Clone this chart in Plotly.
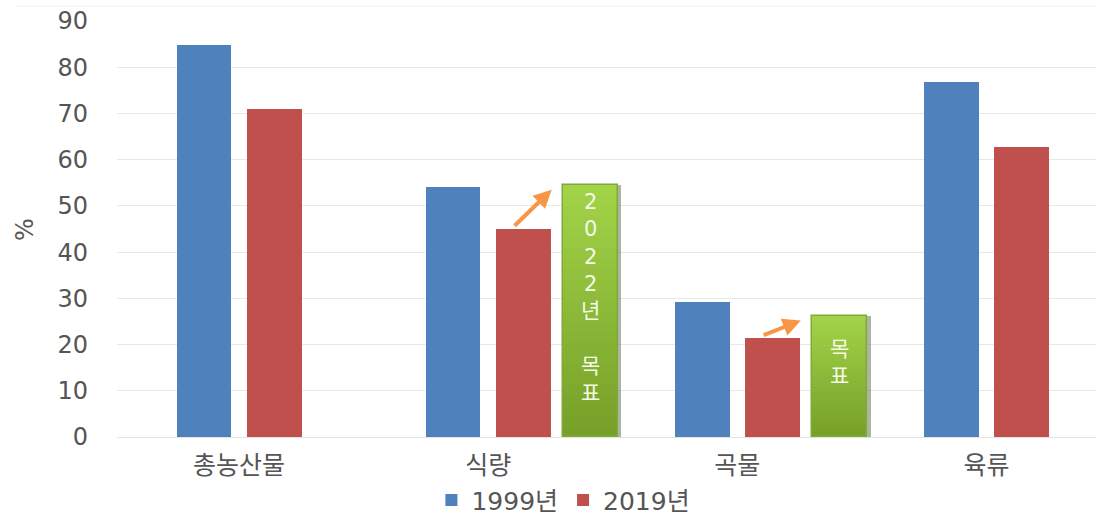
import plotly.graph_objects as go

# Self-sufficiency rates (%) by product group
categories = ["총농산물", "식량", "곡물", "육류"]
rate_1999 = [84.8, 54.0, 29.2, 76.7]
rate_2019 = [70.9, 45.0, 21.5, 62.7]

# 2022 policy targets
target_categories = ["식량", "곡물"]
target_values = [54.5, 26.2]
target_labels = ["2<br>0<br>2<br>2<br>년<br><br>목<br>표", "목<br>표"]

y_ticks = [0, 10, 20, 30, 40, 50, 60, 70, 80, 90]

BLUE = "#4F81BD"
RED = "#C0504D"
ORANGE = "#F79646"
TEXT = "#555555"
FONT = "DejaVu Sans, Noto Sans CJK KR, sans-serif"

BAR_W = 0.22
OFF_1999 = -0.141
OFF_2019 = 0.142
OFF_TARGET = 0.41

pos = {c: i for i, c in enumerate(categories)}
xs = list(range(len(categories)))

fig = go.Figure()

fig.add_trace(go.Bar(
    x=[x + OFF_1999 for x in xs], y=rate_1999, width=BAR_W,
    name="1999년", marker=dict(color=BLUE, line=dict(width=0)),
))
fig.add_trace(go.Bar(
    x=[x + OFF_2019 for x in xs], y=rate_2019, width=BAR_W,
    name="2019년", marker=dict(color=RED, line=dict(width=0)),
))

# target boxes: soft shadow, vertical green gradient, bevel outline
tx = [pos[c] + OFF_TARGET for c in target_categories]
fig.add_trace(go.Bar(
    x=[x + 0.012 for x in tx], y=target_values, width=BAR_W + 0.006,
    marker=dict(color="rgba(70,90,40,0.45)", line=dict(width=0)),
    showlegend=False, hoverinfo="skip",
))

def lerp(c0, c1, t):
    return "rgb({},{},{})".format(*[round(a + (b - a) * t) for a, b in zip(c0, c1)])

N = 24
bottom_rgb = (118, 160, 40)
top_rgb = (162, 210, 72)
for x, v in zip(tx, target_values):
    seg = v / N
    fig.add_trace(go.Bar(
        x=[x] * N,
        y=[seg] * N,
        base=[seg * i for i in range(N)],
        width=BAR_W,
        marker=dict(color=[lerp(bottom_rgb, top_rgb, i / (N - 1)) for i in range(N)],
                    line=dict(width=0)),
        showlegend=False, hoverinfo="skip",
    ))
fig.add_trace(go.Bar(
    x=tx, y=target_values, width=BAR_W,
    marker=dict(color="rgba(0,0,0,0)", line=dict(color="#7FA93A", width=1.5)),
    showlegend=False, hoverinfo="skip",
))

# vertical label text inside target boxes
for x, v, label in zip(tx, target_values, target_labels):
    fig.add_annotation(
        x=x, y=v / 2 + 3, xref="x", yref="y", text=label, showarrow=False,
        font=dict(family=FONT, size=21, color="#F4FAE6"), align="center",
    )

# arrows from 2019 level up toward the target
for c, v in zip(target_categories, target_values):
    i = categories.index(c)
    fig.add_annotation(
        x=pos[c] + 0.255, y=v - 1.0, ax=pos[c] + 0.1, ay=rate_2019[i] + 0.4,
        xref="x", yref="y", axref="x", ayref="y", text="",
        showarrow=True, arrowhead=2, arrowsize=0.9, arrowwidth=4, arrowcolor=ORANGE,
    )

fig.add_annotation(
    x=-0.094, y=0.5, xref="paper", yref="paper", text="%", showarrow=False,
    xanchor="center", yanchor="middle",
    textangle=-90, font=dict(family=FONT, size=24, color=TEXT),
)
fig.add_shape(type="line", xref="paper", yref="paper", x0=-0.104, x1=1.0,
              y0=1.036, y1=1.036, line=dict(color="#EEEEEE", width=1))

fig.update_layout(
    width=1096, height=517,
    margin=dict(l=117, r=0, t=21, b=80, autoexpand=False),
    paper_bgcolor="white", plot_bgcolor="white",
    barmode="overlay", bargap=0,
    font=dict(family=FONT, color=TEXT),
    legend=dict(orientation="h", x=0.456, xanchor="center", y=-0.152, yanchor="middle",
                font=dict(family=FONT, size=25, color=TEXT), itemwidth=30,
                traceorder="normal"),
    xaxis=dict(
        range=[-0.49, 3.44], tickvals=xs, ticktext=categories,
        tickfont=dict(family=FONT, size=25, color=TEXT),
        showgrid=False, zeroline=False, showline=True, linecolor="#E3E3E3",
        ticks="", fixedrange=True, automargin=False, ticklabelstandoff=6,
    ),
    yaxis=dict(
        range=[0, 90], tickvals=y_ticks, showgrid=True, gridcolor="#E8E8E8",
        gridwidth=1, zeroline=False, tickfont=dict(family=FONT, size=24, color=TEXT),
        ticklabelstandoff=28, ticks="", fixedrange=True, automargin=False,
    ),
)

fig.write_html("out.html")
